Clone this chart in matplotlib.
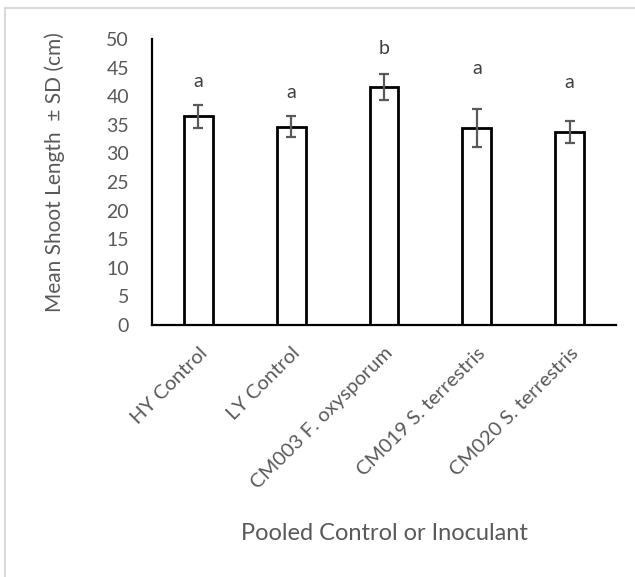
import matplotlib
matplotlib.use("Agg")
import matplotlib.pyplot as plt
from matplotlib.patches import Rectangle

categories = ["HY Control", "LY Control", "CM003 F. oxysporum",
              "CM019 S. terrestris", "CM020 S. terrestris"]
means = [36.5, 34.7, 41.6, 34.4, 33.7]
sds = [2.0, 1.8, 2.2, 3.3, 1.95]
letters = ["a", "a", "b", "a", "a"]
letter_y = [41.65, 39.6, 47.4, 43.8, 41.5]
yticks = [0, 5, 10, 15, 20, 25, 30, 35, 40, 45, 50]

plt.rcParams['font.family'] = ['Lato', 'DejaVu Sans']
gray = '#595959'

fig = plt.figure(figsize=(6.35, 5.77), dpi=100)
ax = fig.add_axes([152/635, 1-325/577, (616-152)/635, (325-39)/577])

x = list(range(len(categories)))
ax.bar(x, means, width=0.31, color='white', edgecolor='black', linewidth=2, zorder=2)
ax.errorbar(x, means, yerr=sds, fmt='none', ecolor=gray, elinewidth=1.6,
            capsize=3.6, capthick=1.6, zorder=3)
for xi, lab, ly in zip(x, letters, letter_y):
    ax.text(xi, ly, lab, ha='center', va='baseline', fontsize=14, color='#404040')

ax.set_xlim(-0.5, len(categories) - 0.5)
ax.set_ylim(0, 50)
ax.set_yticks(yticks)
ax.set_yticklabels([str(t) for t in yticks], fontsize=14, color=gray)
ax.set_xticks(x)
ax.set_xticklabels(categories, rotation=45, ha='right', rotation_mode='anchor',
                   fontsize=14.5, color=gray)
ax.tick_params(axis='y', length=0, pad=16.5)
ax.tick_params(axis='x', length=0, pad=14)
for s in ['top', 'right']:
    ax.spines[s].set_visible(False)
for s in ['left', 'bottom']:
    ax.spines[s].set_linewidth(1.6)
    ax.spines[s].set_color('black')

fig.text(55/635, 1-172.5/577, "Mean Shoot Length  \u00b1 SD (cm)", rotation=90,
         ha='center', va='center', fontsize=15, color=gray)
fig.text(384/635, 1-533/577, "Pooled Control or Inoculant", ha='center', va='center',
         fontsize=17, color=gray)

fig.patches.append(Rectangle((5/635, -0.1), 1.2, 1 - 8/577 + 0.1, transform=fig.transFigure,
                             fill=False, edgecolor='#d9d9d9', linewidth=1.5))

fig.savefig("out.png", dpi=100, facecolor='white')
